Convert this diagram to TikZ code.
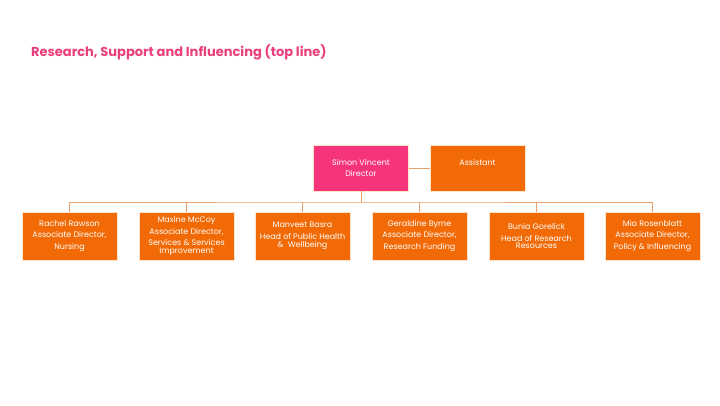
\documentclass[tikz,border=0pt]{standalone}
\usepackage{fontspec}
\setmainfont{Poppins}
\begin{document}
\begin{tikzpicture}[x=1pt,y=1pt,
  box/.style={draw=white!80!orange, line width=0.4pt, fill=boxorange, text=white, minimum width=95pt, minimum height=48pt, align=center, font=\fontsize{8}{11.8}\selectfont, inner sep=1pt},
  conn/.style={draw=lineorange, line width=0.8pt}]
\definecolor{boxorange}{HTML}{F26A06}
\definecolor{boxpink}{HTML}{F5347C}
\definecolor{titlepink}{HTML}{EA3F7C}
\definecolor{lineorange}{HTML}{E9A06A}
\useasboundingbox (0,0) rectangle (720,405);
\node[anchor=base west, text=titlepink, font=\fontsize{13}{15}\selectfont\bfseries, inner sep=0pt] (title) at (31,348) {Research, Support and Influencing (top line)};
\node[box, fill=boxpink, minimum height=46pt] (simon) at (361,237) {Simon Vincent\\Director};
\node[box, minimum height=46pt] (asst) at (477.5,237) {Assistant\\[0pt]};
\node[box] (c1) at (69.5,169) {Rachel Rawson\\Associate Director,\\Nursing};
\node[box] (c2) at (186.5,169) {Maxine McCoy\\Associate Director,\\Services \& Services\\[-4pt]Improvement};
\node[box] (c3) at (302.5,169) {Manveet Basra\\Head of Public Health\\[-4pt]\&\ \ Wellbeing};
\node[box] (c4) at (419.5,169) {Geraldine Byrne\\Associate Director,\\Research Funding};
\node[box] (c5) at (536.5,169) {Bunia Gorelick\\Head of Research\\[-4pt]Resources};
\node[box] (c6) at (652.5,169) {Mia Rosenblatt\\Associate Director,\\Policy \& Influencing};
\coordinate (bus) at (361,203);
\draw[conn] (simon.east) -- (asst.west);
\draw[conn] (simon.south) -- (bus);
\draw[conn] (c1.north) |- (bus) -| (c6.north);
\foreach \c in {c2,c3,c4,c5} \draw[conn] (\c.north) -- (\c.north |- bus);
\end{tikzpicture}
\end{document}
